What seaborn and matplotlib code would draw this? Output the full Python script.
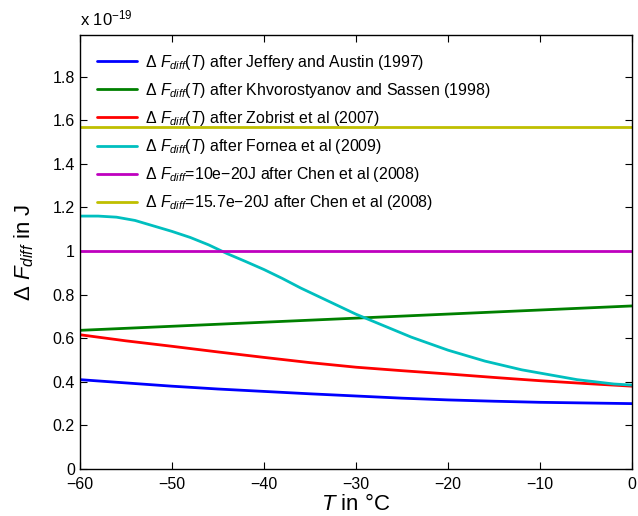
import numpy as np
import pandas as pd
import matplotlib
matplotlib.use("Agg")
import matplotlib.pyplot as plt
import seaborn as sns
from matplotlib.ticker import FormatStrFormatter

# --- Data (values in units of 1e-19 J) ---
t_jeffery = [-60, -55, -50, -45, -40, -35, -30, -25, -20, -15, -10, -5, 0]
f_jeffery = [0.41, 0.395, 0.38, 0.367, 0.356, 0.345, 0.335, 0.325, 0.317, 0.311, 0.306, 0.303, 0.30]

t_khvor = [-60, -30, 0]
f_khvor = [0.636, 0.692, 0.748]

t_zobrist = [-60, -55, -50, -45, -40, -35, -30, -25, -20, -15, -10, -5, 0]
f_zobrist = [0.616, 0.588, 0.563, 0.537, 0.512, 0.488, 0.467, 0.451, 0.436, 0.42, 0.405, 0.392, 0.38]

t_fornea = [-60, -58, -56, -54, -52, -50, -48, -46, -44, -42, -40, -38, -36, -34,
            -32, -30, -28, -26, -24, -22, -20, -18, -16, -14, -12, -10, -8, -6, -4, -2, 0]
f_fornea = [1.16, 1.16, 1.155, 1.14, 1.115, 1.09, 1.062, 1.028, 0.988, 0.952, 0.915,
            0.874, 0.83, 0.79, 0.75, 0.71, 0.675, 0.64, 0.605, 0.575, 0.545, 0.52,
            0.495, 0.475, 0.455, 0.44, 0.425, 0.41, 0.40, 0.39, 0.385]

t_const = [-60, 0]
f_chen_10 = [1.0, 1.0]
f_chen_157 = [1.57, 1.57]

labels = [
    r"$\Delta\ F_{diff}(T)$ after Jeffery and Austin (1997)",
    r"$\Delta\ F_{diff}(T)$ after Khvorostyanov and Sassen (1998)",
    r"$\Delta\ F_{diff}(T)$ after Zobrist et al (2007)",
    r"$\Delta\ F_{diff}(T)$ after Fornea et al (2009)",
    r"$\Delta\ F_{diff}$=10e$-$20J after Chen et al (2008)",
    r"$\Delta\ F_{diff}$=15.7e$-$20J after Chen et al (2008)",
]
colors = ["#0000ff", "#008000", "#ff0000", "#00bfbf", "#bf00bf", "#bfbf00"]

sns.set_theme(style="white")
plt.rcParams["font.family"] = ["Liberation Sans", "DejaVu Sans"]
plt.rcParams["mathtext.fontset"] = "custom"
plt.rcParams["mathtext.rm"] = "Liberation Sans"
plt.rcParams["mathtext.it"] = "Liberation Sans:italic"
plt.rcParams["mathtext.sf"] = "Liberation Sans"
plt.rcParams["text.color"] = "black"
plt.rcParams["axes.labelcolor"] = "black"
plt.rcParams["xtick.color"] = "black"
plt.rcParams["ytick.color"] = "black"

fig = plt.figure(figsize=(6.38, 5.16), dpi=100)
ax = fig.add_axes([0.125, 0.091, 0.866, 0.841])

series = [
    (t_jeffery, f_jeffery),
    (t_khvor, f_khvor),
    (t_zobrist, f_zobrist),
    (t_fornea, f_fornea),
    (t_const, f_chen_10),
    (t_const, f_chen_157),
]
for (t, f), lab, c in zip(series, labels, colors):
    sns.lineplot(x=t, y=f, ax=ax, color=c, linewidth=2, label=lab)

ax.set_xlim(-60, 0)
ax.set_ylim(0, 1.99)
ax.set_xticks(np.arange(-60, 1, 10))
ax.set_yticks(np.arange(0, 1.81, 0.2))
ax.yaxis.set_major_formatter(FormatStrFormatter("%g"))
ax.tick_params(direction="in", length=5, width=0.8, labelsize=11.5,
               top=True, right=True, bottom=True, left=True)
ax.tick_params(axis="x", pad=6)
for sp in ax.spines.values():
    sp.set_color("black")
    sp.set_linewidth(1)

ax.set_xlabel(r"$T$ in °C", fontsize=16, labelpad=1)
ax.set_ylabel(r"$\Delta\ F_{diff}$ in J", fontsize=16, labelpad=12)
ax.text(0.0, 1.015, r"x 10$^{-19}$", transform=ax.transAxes, fontsize=12,
        ha="left", va="bottom")

leg = ax.legend(loc="upper left", frameon=False, fontsize=11.4,
                handlelength=2.5, labelspacing=0.58, borderaxespad=0.7,
                handletextpad=0.55)
for txt in leg.get_texts():
    txt.set_color("black")

fig.savefig("out.png", dpi=100)
